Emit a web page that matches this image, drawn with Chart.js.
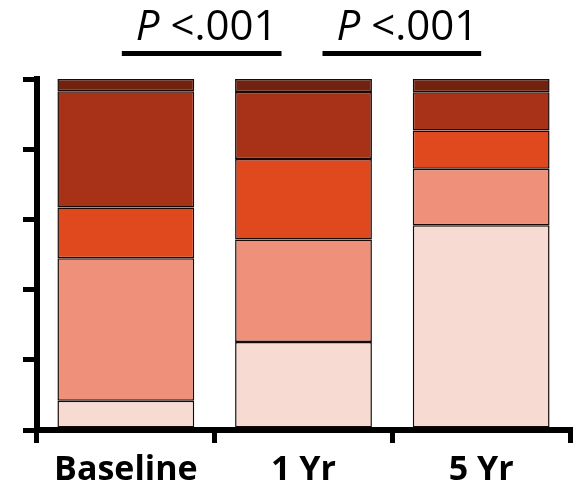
<!DOCTYPE html>
<html>
<head>
<meta charset="utf-8">
<script src="https://cdn.jsdelivr.net/npm/chart.js@4"></script>
<style>
  body { margin: 0; background: #fff; }
  #wrap { width: 577px; height: 488px; }
</style>
</head>
<body>
<div id="wrap"><canvas id="chart_stack" width="577" height="488"></canvas></div>
<script>
// Categories
var labels = ["Baseline", "1 Yr", "5 Yr"]

// Percentages, bottom segment first
var level_1 = [8.3, 25.1, 58.3]
var level_2 = [40.6, 29.2, 16.1]
var level_3 = [14.5, 22.9, 10.9]
var level_4 = [33.1, 19.1, 10.9]
var level_5 = [3.5, 3.7, 3.8]

// Y tick values (no labels drawn)
var y_ticks = [0, 20, 40, 60, 80, 100]

// Significance brackets between category pairs
var p_labels = ["<.001", "<.001"]

var colors = {
  light: "#F7DAD2",
  salmon: "#EE907A",
  orange: "#E0481E",
  red: "#A83218",
  dark: "#72220F"
}

function makeSet(name, values, color) {
  return {
    label: name,
    data: values,
    backgroundColor: color,
    borderColor: "#1a0a05",
    borderWidth: 1.5,
    borderSkipped: false,
    barPercentage: 0.77,
    categoryPercentage: 1.0
  }
}

// draws the "P <.001" bars on top
var bracketPlugin = {
  id: 'brackets',
  afterDraw: function (chart) {
    var ctx = chart.ctx
    var xs = chart.scales.x
    var spans = [
      [xs.getPixelForValue(0) - 4, xs.getPixelForValue(1) - 22],
      [xs.getPixelForValue(1) + 19, xs.getPixelForValue(2)]
    ]
    ctx.save()
    spans.forEach(function (s, i) {
      ctx.fillStyle = "#000"
      ctx.fillRect(s[0], 51, s[1] - s[0], 5)
      var x = s[0] + 14
      ctx.textBaseline = "alphabetic"
      ctx.font = "italic 42px 'Open Sans'"
      ctx.fillText("P", x, 40)
      var w = ctx.measureText("P ").width
      ctx.font = "42px 'Open Sans'"
      ctx.fillText(p_labels[i], x + w, 40)
    })
    ctx.restore()
  }
}

var ctx = document.getElementById('chart_stack').getContext('2d')

var chart = new Chart(ctx, {
  type: 'bar',
  data: {
    labels: labels,
    datasets: [
      makeSet("1", level_1, colors.light),
      makeSet("2", level_2, colors.salmon),
      makeSet("3", level_3, colors.orange),
      makeSet("4", level_4, colors.red),
      makeSet("5", level_5, colors.dark)
    ]
  },
  plugins: [bracketPlugin],
  options: {
    responsive: false,
    animation: false,
    layout: {
      padding: { left: 23, right: 7, top: 79, bottom: 1 }
    },
    plugins: {
      legend: { display: false },
      tooltip: { enabled: false }
    },
    scales: {
      x: {
        stacked: true,
        afterFit: function (axis) {
          axis.height = 57
        },
        grid: {
          offset: true,
          drawOnChartArea: false,
          tickLength: 13,
          lineWidth: 5,
          color: "#000"
        },
        border: { width: 6, color: "#000" },
        ticks: {
          color: "#000",
          padding: 7,
          font: { family: "'Open Sans'", size: 34, weight: 'bold' }
        }
      },
      y: {
        stacked: true,
        min: 0,
        max: 100,
        afterBuildTicks: function (axis) {
          axis.ticks = y_ticks.map(function (v) { return { value: v } })
        },
        grid: {
          drawOnChartArea: false,
          tickLength: 14,
          lineWidth: 5,
          color: "#000"
        },
        border: { width: 6, color: "#000" },
        ticks: { display: false }
      }
    }
  }
})
</script>
</body>
</html>
